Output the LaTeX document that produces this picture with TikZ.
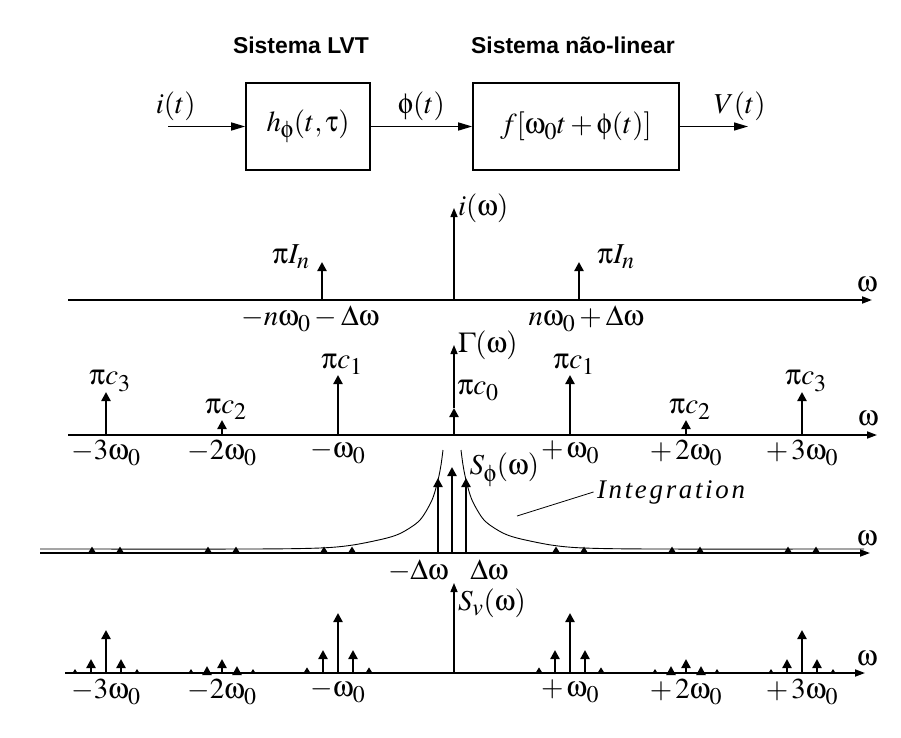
\documentclass[tikz,border=0pt]{standalone}
\usepackage{mathptmx}
\usepackage[Symbol]{upgreek}
\usepackage{fontspec}
\setmainfont{Liberation Serif}
\newfontfamily\headfont{Liberation Sans}
\usetikzlibrary{arrows.meta, positioning, calc}
\DeclareMathSizes{29}{29}{24}{19}
\newcommand{\spk}[3]{\fill (#1-#3,#2) -- (#1+#3,#2) -- (#1,#2-1.6*#3) -- cycle;}

\begin{document}
\begin{tikzpicture}[x=1bp, y=-1bp, font=\fontsize{29}{34}\selectfont,
  blk/.style={draw, line width=1.6bp, minimum height=87bp, inner sep=0pt},
  sig/.style={line width=1.4bp, -{Triangle[length=14bp,width=8bp]}},
  axis/.style={line width=1.8bp, -{Triangle[length=10bp,width=7bp]}},
  imp/.style={line width=2.6bp, -{Triangle[length=9bp,width=9bp]}},
  thinimp/.style={line width=1.4bp, -{Triangle[length=9bp,width=7bp]}},
  ttl/.style={font=\headfont\bfseries\fontsize{23}{28}\selectfont}]
\useasboundingbox (0,0) rectangle (901,738);

% diagrama de blocos
\node[ttl] (ttl1) at (301,45) {Sistema LVT};
\node[ttl] (ttl2) at (573,45) {Sistema não-linear};
\node[blk, minimum width=124bp] (lvt) at (308,126.5) {$h_{\upphi}(t,\uptau)$};
\node[blk, minimum width=206bp] (nlin) at (576,126.5) {$f[\upomega_0t+\upphi(t)]$};
\coordinate (in) at (168,126.5);
\coordinate (out) at (748,126.5);
\draw[sig] (in) -- (lvt) node[pos=0.1, above=2bp] (it) {$i(t)$};
\draw[sig] (lvt) -- (nlin) node[midway, above=2bp] (phit) {$\upphi(t)$};
\draw[sig] (nlin) -- (out) node[pos=0.88, above=2bp] (vt) {$V(t)$};

% i(w)
\draw[axis] (68,300) -- (872,300);
\node (w1) at (867,284) {$\upomega$};
\draw[thinimp] (454,300) -- (454,208) node[right] (iw) {$i(\upomega)$};
\draw[imp] (322,300) -- (322,262);
\draw[imp] (579,300) -- (579,262);
\node[anchor=south] (pin1) at (291,272) {$\uppi I_n$};
\node[anchor=south] (pin2) at (616,272) {$\uppi I_n$};
\node[below] (f1) at (310,302) {$-n\upomega_0-\Delta\upomega$};
\node[below] (f2) at (586,302) {$n\upomega_0+\Delta\upomega$};

% Gamma(w)
\draw[axis] (68,435) -- (877,435);
\node (w2) at (868,418) {$\upomega$};
\foreach \k/\h in {-3/43,-2/15,-1/60,1/60,2/15,3/43} {
  \pgfmathtruncatemacro\n{abs(\k)}
  \draw[imp] ({454+116*\k},435) -- ++(0,-\h) node[above=-4bp, xshift=4bp] (c\k) {$\uppi c_{\n}$};
}
\draw[imp] (454,435) -- (454,408);
\draw[thinimp] (454,408) -- (454,345) node[right] (gw) {$\Gamma(\upomega)$};
\node[right] (c0) at (454,390) {$\uppi c_0$};
\foreach \k/\t in {-3/-3\upomega_0, -2/-2\upomega_0, -1/-\upomega_0, 1/+\,\upomega_0, 2/+\,2\upomega_0, 3/+\,3\upomega_0}
  \node[below] (g\k) at ({454+116*\k},437) {$\t$};

% S_phi(w)
\draw[line width=0.9bp] plot[smooth, tension=0.5] coordinates {(40,549) (250,549) (320,548) (353,545) (387,538) (403,532) (420,520) (432,500) (438,480) (441,465) (443,450)};
\draw[line width=0.9bp] plot[smooth, tension=0.5] coordinates {(864,549) (654,549) (584,548) (551,545) (517,538) (501,532) (484,520) (472,500) (466,480) (463,465) (461,450)};
\draw[axis] (40,553) -- (870,553);
\node (w3) at (867,538) {$\upomega$};
\draw[imp] (438,553) -- (438,478);
\draw[imp] (466,553) -- (466,478);
\draw[imp] (452,553) -- (452,467);
\foreach \k in {-3,-2,-1,1,2,3} {
  \pgfmathsetmacro\xa{454+116*\k-14}
  \pgfmathsetmacro\xb{454+116*\k+14}
  \spk{\xa}{553}{4}
  \spk{\xb}{553}{4}
}
\node[right] (sphi) at (466,470) {$S_{\upphi}(\upomega)$};
\node[below] (dw1) at (418,556) {$-\Delta\upomega$};
\node[below] (dw2) at (489,556) {$\Delta\upomega$};
\node (intg) at (671,492) {\fontsize{27}{30}\selectfont\itshape\addfontfeature{LetterSpace=10}Integration};
\coordinate (ilead) at (517,516);
\draw[line width=0.8bp] (intg.west) -- (ilead);

% S_v(w)
\draw[axis] (65,673) -- (865,673);
\node (w4) at (867,658) {$\upomega$};
\draw[thinimp] (454,673) -- (454,583) node[below right=2bp and 0bp] (sv) {$S_v(\upomega)$};
\foreach \k/\m/\s/\t in {-3/43/14/2.5, -2/14/7/2.5, -1/60/23/3.5, 1/60/23/3.5, 2/14/7/2.5, 3/43/14/2.5} {
  \pgfmathsetmacro\xc{454+116*\k}
  \draw[imp] (\xc,673) -- ++(0,-\m);
  \draw[imp] (\xc-15,673) -- ++(0,-\s);
  \draw[imp] (\xc+15,673) -- ++(0,-\s);
  \spk{\xc-31}{673}{\t}
  \spk{\xc+31}{673}{\t}
}
\foreach \k/\t in {-3/-3\upomega_0, -2/-2\upomega_0, -1/-\upomega_0, 1/+\,\upomega_0, 2/+\,2\upomega_0, 3/+\,3\upomega_0}
  \node[below] (v\k) at ({454+116*\k},676) {$\t$};
\end{tikzpicture}
\end{document}
